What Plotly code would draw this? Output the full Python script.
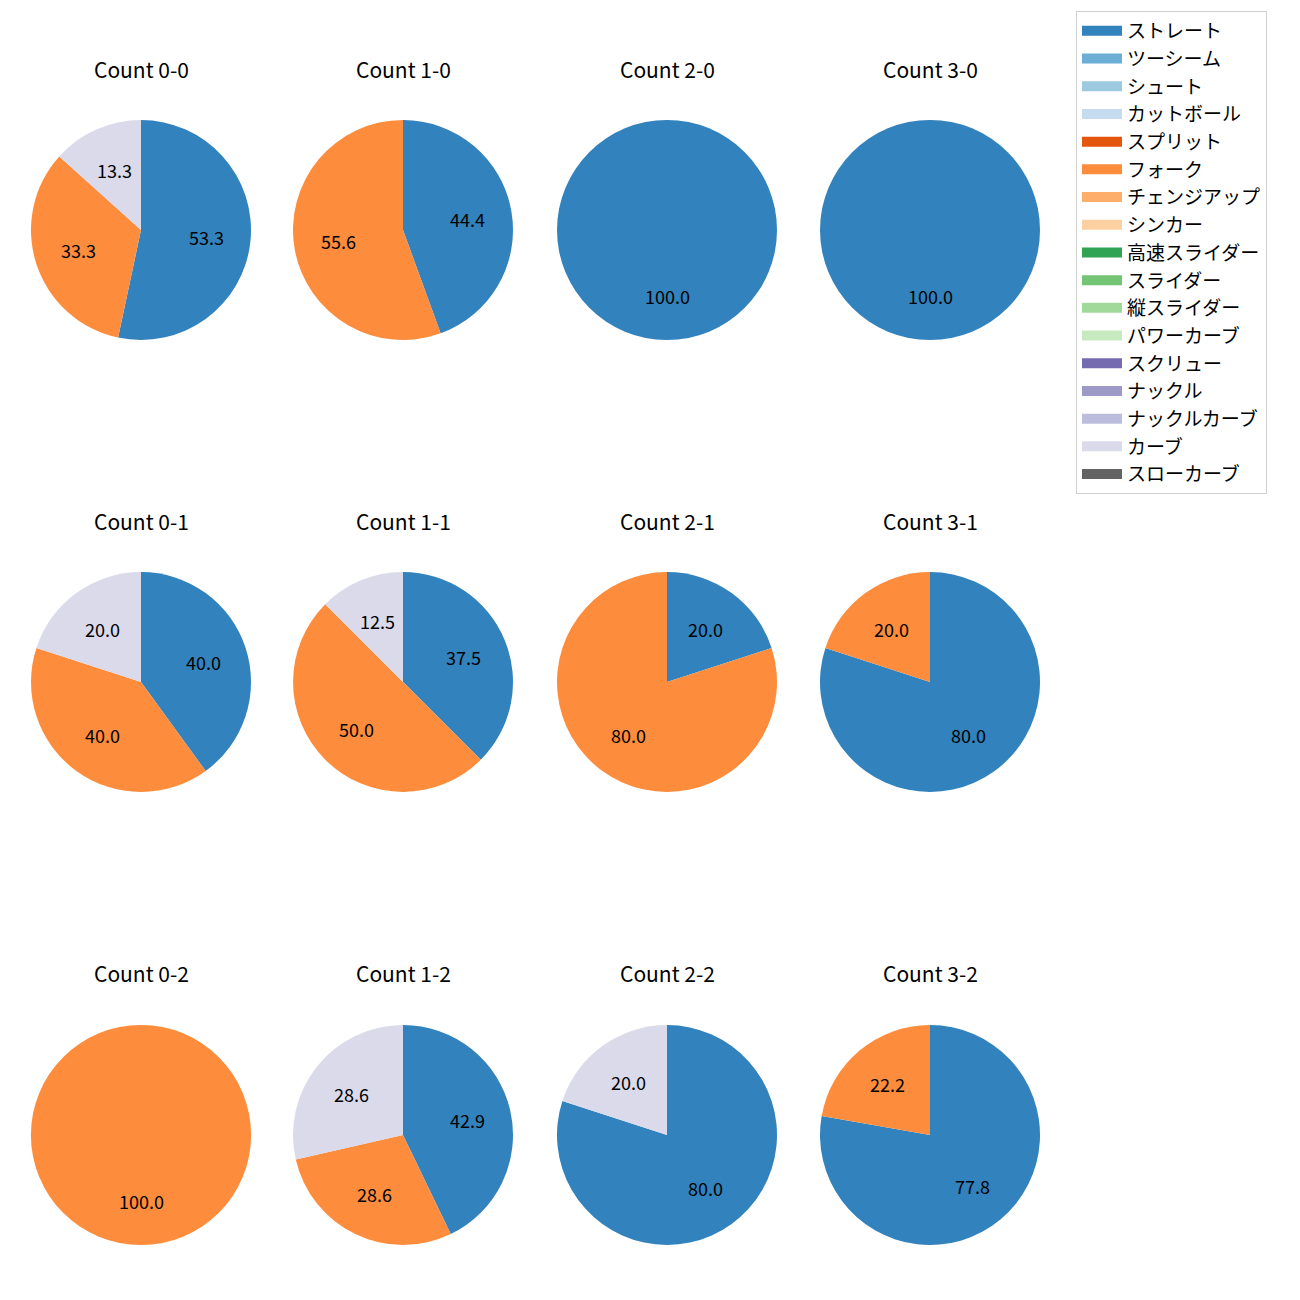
import math
import plotly.graph_objects as go

# ---- data ----
pitch_types = ["ストレート", "ツーシーム", "シュート", "カットボール", "スプリット", "フォーク",
               "チェンジアップ", "シンカー", "高速スライダー", "スライダー", "縦スライダー",
               "パワーカーブ", "スクリュー", "ナックル", "ナックルカーブ", "カーブ", "スローカーブ"]
colors = ["#3182bd", "#6baed6", "#9ecae1", "#c6dbef", "#e6550d", "#fd8d3c", "#fdae6b", "#fdd0a2",
          "#31a354", "#74c476", "#a1d99b", "#c7e9c0", "#756bb1", "#9e9ac8", "#bcbddc", "#dadaeb",
          "#636363"]

count_titles = ["Count 0-0", "Count 1-0", "Count 2-0", "Count 3-0",
                "Count 0-1", "Count 1-1", "Count 2-1", "Count 3-1",
                "Count 0-2", "Count 1-2", "Count 2-2", "Count 3-2"]
# pitches per count: (pitch type, count)
count_0_0 = {"ストレート": 8, "フォーク": 5, "カーブ": 2}
count_1_0 = {"ストレート": 4, "フォーク": 5}
count_2_0 = {"ストレート": 3}
count_3_0 = {"ストレート": 2}
count_0_1 = {"ストレート": 2, "フォーク": 2, "カーブ": 1}
count_1_1 = {"ストレート": 3, "フォーク": 4, "カーブ": 1}
count_2_1 = {"ストレート": 1, "フォーク": 4}
count_3_1 = {"ストレート": 4, "フォーク": 1}
count_0_2 = {"フォーク": 1}
count_1_2 = {"ストレート": 3, "フォーク": 2, "カーブ": 2}
count_2_2 = {"ストレート": 4, "カーブ": 1}
count_3_2 = {"ストレート": 7, "フォーク": 2}
counts = [count_0_0, count_1_0, count_2_0, count_3_0,
          count_0_1, count_1_1, count_2_1, count_3_1,
          count_0_2, count_1_2, count_2_2, count_3_2]

# ---- layout geometry (pixels) ----
W = H = 1300
col_cx = [141, 403, 667, 930]
row_cy = [230, 682, 1135]
title_y = [69, 521, 973]
R = 110
FONT = "Noto Sans CJK JP, Noto Sans, DejaVu Sans"

fig = go.Figure()
annotations = []
color_map = dict(zip(pitch_types, colors))

for i, (title, cnt) in enumerate(zip(count_titles, counts)):
    r, c = divmod(i, 4)
    cx, cy = col_cx[c], row_cy[r]
    labels = [p for p in pitch_types if p in cnt]
    values = [cnt[p] for p in labels]
    fig.add_trace(go.Pie(
        labels=labels, values=values, sort=False, direction="clockwise", rotation=0,
        marker=dict(colors=[color_map[p] for p in labels], line=dict(width=0)),
        textinfo="none", hoverinfo="label+percent", showlegend=False,
        domain=dict(x=[(cx - R) / W, (cx + R) / W], y=[1 - (cy + R) / H, 1 - (cy - R) / H]),
    ))
    annotations.append(dict(x=cx / W, y=1 - title_y[r] / H, xref="paper", yref="paper",
                            text=title, showarrow=False, xanchor="center", yanchor="middle",
                            font=dict(size=21, color="black", family=FONT)))
    total = sum(values)
    cum = 0
    for v in values:
        mid = (cum + v / 2) / total
        cum += v
        theta = math.radians(90 - 360 * mid)
        px = cx + 0.6 * R * math.cos(theta)
        py = cy - 0.6 * R * math.sin(theta)
        annotations.append(dict(x=px / W, y=1 - py / H, xref="paper", yref="paper",
                                text=f"{100 * v / total:.1f}", showarrow=False,
                                xanchor="center", yanchor="middle",
                                font=dict(size=18, color="black", family=FONT)))

# legend entries
for p, col in zip(pitch_types, colors):
    fig.add_trace(go.Scatter(x=[None], y=[None], mode="lines", name=p, legendgroup=p,
                             line=dict(color=col, width=14), showlegend=True, hoverinfo="skip"))

fig.update_layout(
    width=W, height=H, margin=dict(l=0, r=0, t=0, b=0),
    paper_bgcolor="white", plot_bgcolor="white",
    xaxis=dict(visible=False), yaxis=dict(visible=False),
    annotations=annotations,
    legend=dict(x=1076 / W, y=1 - 11 / H, xanchor="left", yanchor="top",
                bordercolor="#d0d0d0", borderwidth=1, bgcolor="white",
                font=dict(size=19, family=FONT, color="black"),
                tracegroupgap=0, itemwidth=40),
    font=dict(family=FONT),
)

fig.write_html("out.html")
